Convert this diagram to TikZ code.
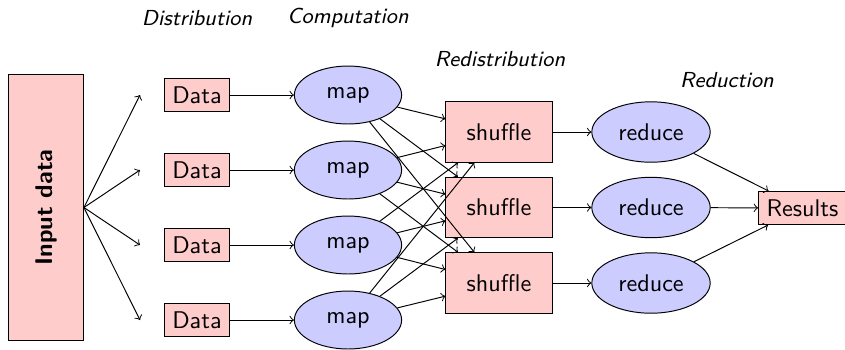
\documentclass[tikz,border=0pt]{standalone}
\usetikzlibrary{shapes.geometric}
\begin{document}
\begin{tikzpicture}[x=0.414pt, y=-0.414pt, font=\sffamily,
  box/.style={draw, fill=red!20, inner sep=3.33pt},
  oval/.style={draw, ellipse, fill=blue!20, inner sep=0pt},
  phase/.style={font=\sffamily\itshape\small},
  flow/.style={->}]
\useasboundingbox (0,0) rectangle (845,349);

% input block
\node[box, minimum width=31pt, minimum height=110pt] (in) at (46,207.5) {};
\node[rotate=90, font=\sffamily\bfseries] (intext) at (in.center) {Input data};

% phase titles
\node[phase] (t1) at (197,18) {Distribution};
\node[phase] (t2) at (348,18) {Computation};
\node[phase] (t3) at (500,59) {Redistribution};
\node[phase] (t4) at (727,80) {Reduction};

% data chunks and map tasks
\foreach \i/\y in {1/95,2/170,3/245,4/320}{
  \coordinate (c\i) at (140,\y);
  \node[box] (d\i) at (197,\y) {Data};
  \node[oval, minimum width=44.4pt, minimum height=24pt] (m\i) at (348,\y) {map};
  \draw[flow] (in.east) -- (c\i);
  \draw[flow] (d\i) -- (m\i);
}

% shuffle and reduce stages
\foreach \i/\y in {1/132,2/207.5,3/283}{
  \node[box, minimum width=44pt, minimum height=25pt] (s\i) at (499,\y) {shuffle};
  \node[oval, minimum width=49pt, minimum height=25pt] (r\i) at (651,\y) {reduce};
  \draw[flow] (s\i) -- (r\i);
}

\node[box] (res) at (802.5,208) {Results};

% all-to-all exchange
\foreach \a in {1,2,3,4}{
  \foreach \b in {1,2,3}{
    \draw[flow] (m\a) -- (s\b);
  }
}

\foreach \i in {1,2,3}{
  \draw[flow] (r\i) -- (res);
}
\end{tikzpicture}
\end{document}
